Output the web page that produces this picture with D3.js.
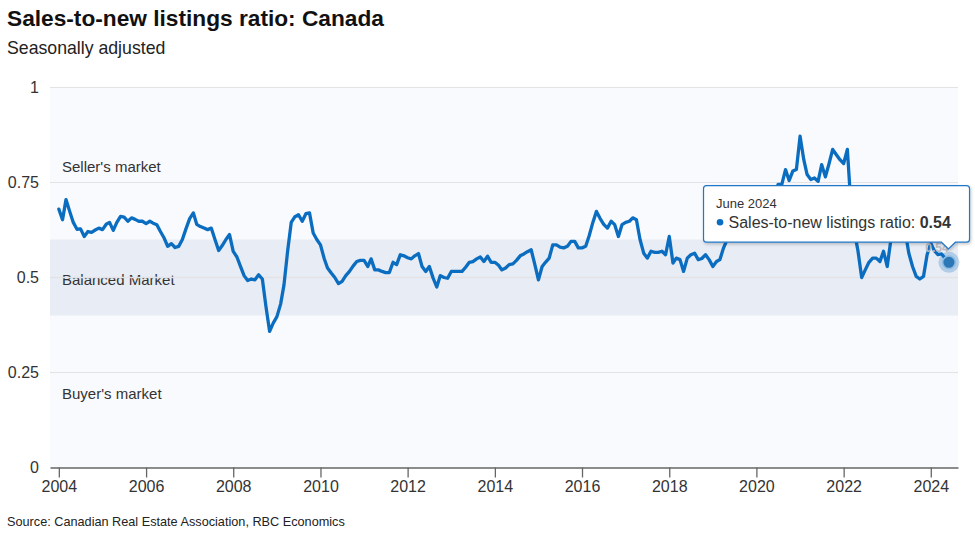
<!DOCTYPE html>
<html><head><meta charset="utf-8">
<script src="https://cdn.jsdelivr.net/npm/d3@7"></script>
<style>
body{margin:0;background:#fff;}
svg{display:block;font-family:"Liberation Sans",Arial,Helvetica,sans-serif;}
</style></head><body>
<svg id="chart" width="975" height="533"></svg>
<script>
// ---------- data ----------
const title = "Sales-to-new listings ratio: Canada";
const subtitle = "Seasonally adjusted";
const sourceNote = "Source: Canadian Real Estate Association, RBC Economics";
const seriesName = "Sales-to-new listings ratio";
const tooltipDate = "June 2024";
const startYear = 2004;
const ratio = [
  .68,.652,.705,.674,.645,.627,.628,.608,.621,.619,.625,.63,      // 2004
  .626,.64,.645,.624,.645,.661,.659,.648,.657,.653,.648,.648,     // 2005
  .642,.648,.643,.639,.621,.604,.582,.589,.579,.582,.6,.628,      // 2006
  .655,.67,.64,.634,.63,.626,.63,.6,.571,.584,.6,.613,            // 2007
  .569,.554,.53,.505,.492,.496,.494,.507,.496,.424,.358,.38,      // 2008
  .397,.43,.48,.57,.645,.66,.665,.648,.668,.67,.617,.6,           // 2009
  .586,.55,.525,.512,.5,.484,.49,.505,.516,.53,.542,.545,         // 2010
  .545,.529,.549,.52,.52,.516,.513,.513,.54,.534,.56,.557,        // 2011
  .552,.549,.557,.563,.529,.516,.529,.499,.475,.505,.5,.498,      // 2012
  .516,.516,.516,.516,.527,.54,.542,.549,.554,.542,.556,.54,      // 2013
  .54,.532,.52,.525,.534,.536,.545,.557,.562,.568,.573,.535,      // 2014
  .494,.529,.54,.551,.586,.586,.58,.578,.582,.595,.595,.578,      // 2015
  .578,.582,.61,.645,.674,.655,.64,.63,.648,.639,.608,.639,       // 2016
  .645,.648,.657,.652,.6,.564,.551,.569,.566,.566,.569,.56,       // 2017
  .608,.538,.551,.547,.516,.551,.56,.564,.547,.55,.56,.547,       // 2018
  .529,.542,.547,.578,.6,.615,.625,.62,.635,.63,.64,.645,         // 2019
  .65,.66,.63,.6,.6,.72,.745,.745,.784,.755,.78,.784,             // 2020
  .872,.81,.771,.758,.762,.753,.797,.765,.8,.837,.823,.81,        // 2021
  .8,.837,.7,.62,.57,.5,.52,.54,.551,.551,.542,.569,              // 2022
  .529,.6,.66,.68,.66,.62,.564,.529,.503,.496,.503,.56,           // 2023
  .59,.57,.56,.562,.55,.54                                        // 2024
];
const balancedBand = [0.4, 0.6];
const zoneLabels = ["Seller's market", "Balanced Market", "Buyer's market"];
const zoneAnchors = [0.7926, 0.494, 0.193];
const yTickValues = [0, 0.25, 0.5, 0.75, 1];
const yTickLabels = ["0", "0.25", "0.5", "0.75", "1"];

const data = ratio.map((v, i) => ({date: new Date(startYear, i, 1), value: v}));

// ---------- layout ----------
const svg = d3.select("#chart");
const pLeft = 50, pRight = 958, pTop = 87.5, pBottom = 467.5;
const blue = "#0b6dc0";

const x = d3.scaleTime()
  .domain([new Date(2003, 9, 19), new Date(2024, 7, 16)])
  .range([pLeft, pRight]);
const y = d3.scaleLinear().domain([0, 1]).range([pBottom, pTop]);

// titles
svg.append("text").attr("x", 7).attr("y", 26)
  .attr("font-size", 22.7).attr("font-weight", "bold").attr("fill", "#111").text(title);
svg.append("text").attr("x", 7).attr("y", 54)
  .attr("font-size", 17.7).attr("fill", "#222").text(subtitle);
svg.append("text").attr("x", 7).attr("y", 526)
  .attr("font-size", 12.7).attr("fill", "#222").text(sourceNote);

// plot background and band
svg.append("rect").attr("x", pLeft).attr("y", pTop).attr("width", pRight - pLeft)
  .attr("height", pBottom - pTop).attr("fill", "#f9fafd");
svg.append("rect").attr("x", pLeft).attr("y", y(balancedBand[1]))
  .attr("width", pRight - pLeft).attr("height", y(balancedBand[0]) - y(balancedBand[1]))
  .attr("fill", "#e8ecf4");

// zone labels
svg.append("g").selectAll("text").data(zoneLabels).join("text")
  .attr("x", 62).attr("y", (d, i) => y(zoneAnchors[i]) + 5.3)
  .attr("font-size", 15).attr("fill", "#333").text(d => d);

// gridlines
svg.append("g").selectAll("line").data(yTickValues.filter(d => d > 0)).join("line")
  .attr("x1", pLeft).attr("x2", pRight)
  .attr("y1", d => y(d)).attr("y2", d => y(d))
  .attr("stroke", "#e3e3e6").attr("stroke-width", d => d === 0.5 ? 1.6 : 1.2);

// y axis labels
svg.append("g").selectAll("text").data(yTickValues).join("text")
  .attr("x", 39).attr("y", d => y(d) + 5.5).attr("text-anchor", "end")
  .attr("font-size", 16).attr("fill", "#333")
  .text((d, i) => yTickLabels[i]);

// x axis
const xAxis = d3.axisBottom(x)
  .ticks(d3.timeYear.every(2))
  .tickFormat(d3.timeFormat("%Y"))
  .tickSize(10).tickSizeOuter(0);
const gx = svg.append("g").attr("transform", `translate(0,${pBottom})`).call(xAxis);
gx.select(".domain").attr("stroke", "#666").attr("stroke-width", 1.3);
gx.selectAll(".tick line").attr("stroke", "#666").attr("stroke-width", 1.3);
gx.selectAll(".tick text").attr("font-size", 16).attr("fill", "#333")
  .attr("font-family", "Liberation Sans, Arial, sans-serif").attr("dy", "0.95em").attr("y", 9);

// line
const line = d3.line().x(d => x(d.date)).y(d => y(d.value));
svg.append("path").datum(data).attr("d", line)
  .attr("fill", "none").attr("stroke", blue).attr("stroke-width", 3.3)
  .attr("stroke-linejoin", "round").attr("stroke-linecap", "round");

// last point
const last = data[data.length - 1];
const px = x(last.date), py = y(last.value);
svg.append("text").attr("x", px - 12).attr("y", py - 10).attr("text-anchor", "middle")
  .attr("font-size", 12).attr("font-weight", "bold").attr("fill", "#b9bcc2")
  .text(last.value.toFixed(2));
svg.append("circle").attr("cx", px).attr("cy", py).attr("r", 10.5)
  .attr("fill", blue).attr("opacity", 0.25);
svg.append("circle").attr("cx", px).attr("cy", py).attr("r", 6.3)
  .attr("fill", "#2c77b6").attr("stroke", "#8dbbe2").attr("stroke-width", 1.5);

// tooltip
const defs = svg.append("defs");
const f = defs.append("filter").attr("id", "shadow").attr("x", "-10%").attr("y", "-30%")
  .attr("width", "120%").attr("height", "170%");
f.append("feDropShadow").attr("dx", 1).attr("dy", 1.5).attr("stdDeviation", 1.6)
  .attr("flood-color", "#000").attr("flood-opacity", 0.22);

const bx0 = px - 245.4, bx1 = px + 20.6, by0 = py - 76.6, by1 = py - 20.1;
const tipX = px - 0.5, tipY = py - 13.4, r = 3;
const pathD = `M${bx0 + r},${by0} H${bx1 - r} Q${bx1},${by0} ${bx1},${by0 + r} V${by1 - r} Q${bx1},${by1} ${bx1 - r},${by1} H${tipX + 7} L${tipX},${tipY} L${tipX - 7},${by1} H${bx0 + r} Q${bx0},${by1} ${bx0},${by1 - r} V${by0 + r} Q${bx0},${by0} ${bx0 + r},${by0} Z`;
const tip = svg.append("g");
tip.append("path").attr("d", pathD).attr("fill", "#fff")
  .attr("stroke", "#2176c7").attr("stroke-width", 1.2).attr("filter", "url(#shadow)");
tip.append("text").attr("x", bx0 + 12.5).attr("y", by0 + 22.5)
  .attr("font-size", 13).attr("fill", "#333").text(tooltipDate);
tip.append("circle").attr("cx", bx0 + 16.5).attr("cy", by0 + 36.5).attr("r", 3.3).attr("fill", blue);
const tt = tip.append("text").attr("x", bx0 + 25).attr("y", by0 + 42)
  .attr("font-size", 16).attr("fill", "#333");
tt.append("tspan").text(seriesName + ": ");
tt.append("tspan").attr("font-weight", "bold").text(last.value.toFixed(2));
</script>
</body></html>
